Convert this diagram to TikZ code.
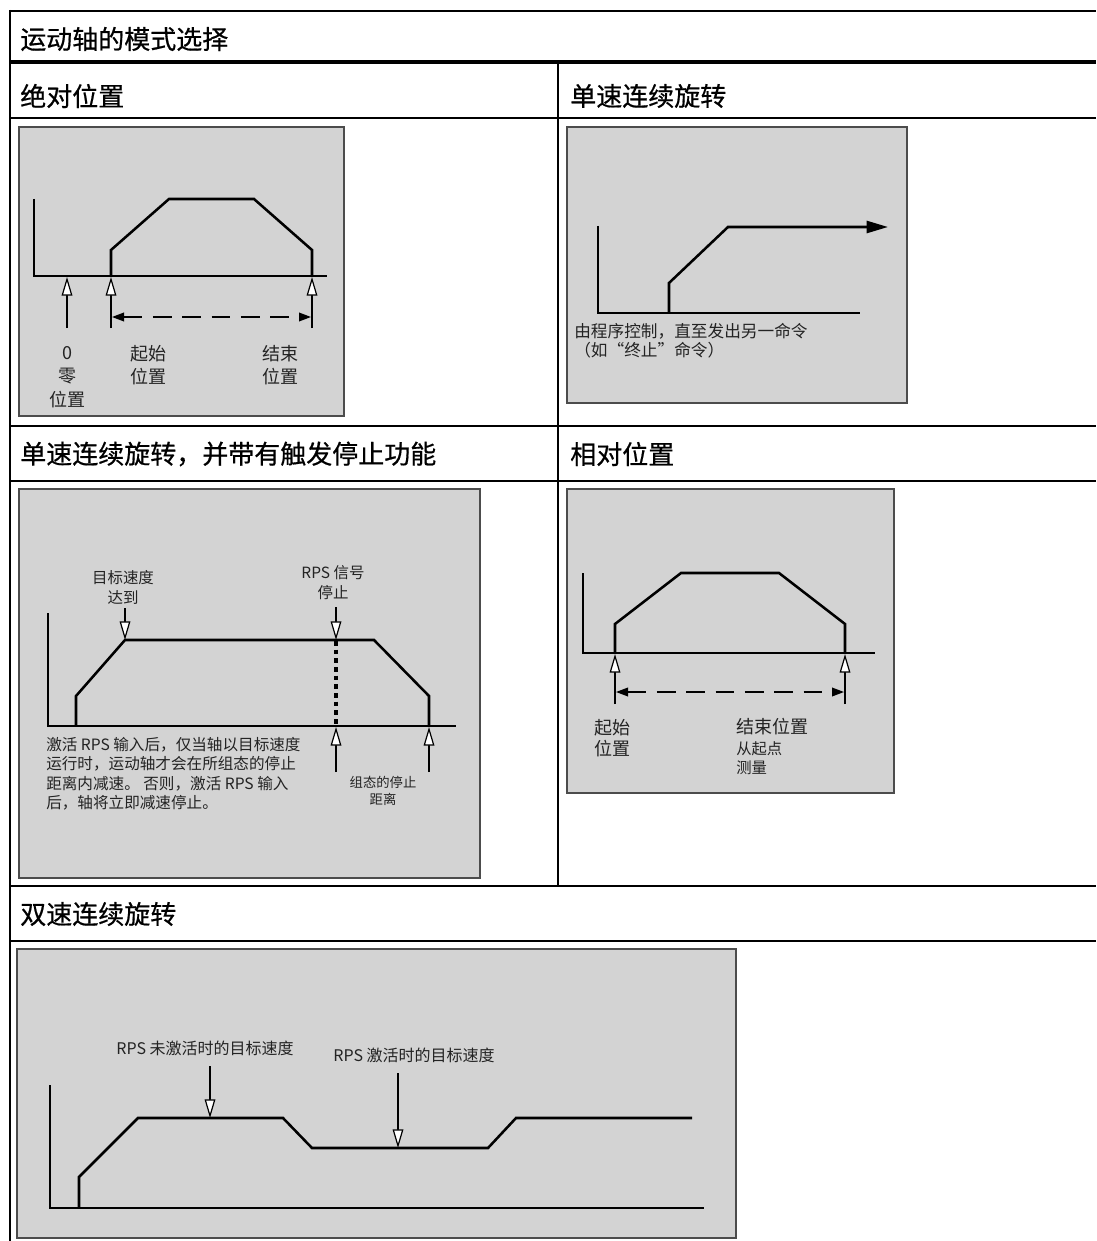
\documentclass[tikz,border=0pt]{standalone}
\usepackage{fontspec}
\setmainfont{Noto Sans CJK SC}
\newfontfamily\headfont[FakeBold=0.6]{Noto Sans CJK SC}
\usetikzlibrary{arrows.meta}
\definecolor{panelgray}{RGB}{211,211,211}
\definecolor{inkgray}{RGB}{35,35,35}

\begin{document}
\begin{tikzpicture}[x=0.75pt,y=-0.75pt,
  rule/.style={line width=1.7pt},
  panel/.style={fill=panelgray,draw=black!70,line width=1.1pt},
  curve/.style={line width=1.9pt,line join=miter},
  head/.style={anchor=west,inner sep=0pt,font=\headfont\fontsize{19.5}{23}\selectfont},
  lbl/.style={inner sep=0pt,align=center,text=inkgray,font=\fontsize{13.5}{17.5}\selectfont},
  note/.style={inner sep=0pt,align=left,text=inkgray,font=\fontsize{11.7}{14.5}\selectfont},
  pointer/.style={line width=2pt,-{Triangle[fill=white,length=14pt,width=8pt,line width=0.9pt]}},
  span/.style={line width=1.1pt,dash pattern=on 14pt off 8pt,
    {Triangle[length=9pt,width=6.5pt]}-{Triangle[length=9pt,width=6.5pt]}}
]
\useasboundingbox (0,0) rectangle (1096,1241);

% table
\draw[rule] (10,11) -- (1096,11);
\draw[line width=2.6pt] (10,62) -- (1096,62);
\draw[rule] (10,118) -- (1096,118);
\draw[rule] (10,426) -- (1096,426);
\draw[rule] (10,481) -- (1096,481);
\draw[rule] (10,886) -- (1096,886);
\draw[rule] (10,941) -- (1096,941);
\draw[line width=2pt] (10,10) -- (10,1241);
\draw[rule] (558,62) -- (558,886);

\node[head] (hMain) at (20,39) {运动轴的模式选择};
\node[head] (hAbs)  at (20,96) {绝对位置};
\node[head] (hOne)  at (570,96) {单速连续旋转};
\node[head] (hTrig) at (20,454) {单速连续旋转，并带有触发停止功能};
\node[head] (hRel)  at (570,454) {相对位置};
\node[head] (hTwo)  at (20,914) {双速连续旋转};

% absolute position
\draw[panel] (19,127) rectangle (344,416);
\draw[curve] (34,199) -- (34,276) -- (327,276);
\draw[curve] (111,276) -- (111,250) -- (169,199) -- (254,199) -- (312,250) -- (312,276);
\draw[pointer] (67,328) -- (67,277);
\draw[pointer] (111,328) -- (111,277);
\draw[pointer] (312,328) -- (312,277);
\draw[span] (112,317) -- (311,317);
\node[lbl] (absZero)  at (67,377) {0\\零\\位置};
\node[lbl] (absStart) at (148,365) {起始\\位置};
\node[lbl] (absEnd)   at (280,365) {结束\\位置};

% single speed
\draw[panel] (567,127) rectangle (907,403);
\draw[curve] (598,226) -- (598,313) -- (860,313);
\draw[curve,-{Triangle[length=16pt,width=9pt]}] (669,313) -- (669,283) -- (728,227) -- (888,227);
\node[note,anchor=north west,font=\fontsize{12.5}{14.3}\selectfont] (oneTxt) at (574,323)
  {由程序控制，直至发出另一命令\\（如“终止”命令）};

% single speed with trigger stop
\draw[panel] (19,489) rectangle (480,878);
\draw[curve] (48,613) -- (48,726) -- (456,726);
\draw[curve] (76,726) -- (76,696) -- (125,640) -- (374,640) -- (429,696) -- (429,726);
\draw[line width=2.6pt,dash pattern=on 3.5pt off 3pt] (336,641) -- (336,726);
\draw[pointer] (125,608) -- (125,640);
\draw[pointer] (336,607) -- (336,640);
\draw[pointer] (336,772) -- (336,727);
\draw[pointer] (429,772) -- (429,727);
\node[lbl,font=\fontsize{11.6}{15}\selectfont] (trigReach) at (123,587) {目标速度\\达到};
\node[lbl,font=\fontsize{11.6}{15}\selectfont] (trigRps) at (333,583) {RPS 信号\\停止};
\node[lbl,font=\fontsize{10}{12.8}\selectfont] (trigDist) at (383,791) {组态的停止\\距离};
\node[note,anchor=north west] (trigTxt) at (46,737)
  {激活 RPS 输入后，仅当轴以目标速度\\运行时，运动轴才会在所组态的停止\\距离内减速。 否则，激活 RPS 输入\\后，轴将立即减速停止。};

% relative position
\draw[panel] (567,489) rectangle (894,793);
\draw[curve] (583,573) -- (583,653) -- (875,653);
\draw[curve] (615,653) -- (615,624) -- (681,573) -- (779,573) -- (845,624) -- (845,653);
\draw[pointer] (615,704) -- (615,654);
\draw[pointer] (845,704) -- (845,654);
\draw[span] (616,692) -- (844,692);
\node[lbl,anchor=west,align=left,font=\fontsize{13.5}{16}\selectfont] (relStart) at (594,738) {起始\\位置};
\node[lbl,anchor=west] (relEnd) at (736,727) {结束位置};
\node[note,anchor=west,font=\fontsize{11.5}{14.3}\selectfont] (relFrom) at (736,758) {从起点\\测量};

% dual speed
\draw[panel] (17,949) rectangle (736,1238);
\draw[curve] (50,1085) -- (50,1208) -- (704,1208);
\draw[curve] (79,1208) -- (79,1177) -- (138,1118) -- (283,1118) -- (312,1148) -- (488,1148) -- (516,1118) -- (692,1118);
\draw[pointer] (210,1066) -- (210,1118);
\draw[pointer] (398,1073) -- (398,1148);
\node[lbl,font=\fontsize{12}{15}\selectfont] (twoOff) at (205,1048) {RPS 未激活时的目标速度};
\node[lbl,font=\fontsize{12}{15}\selectfont] (twoOn)  at (414,1055) {RPS 激活时的目标速度};
\end{tikzpicture}
\end{document}
